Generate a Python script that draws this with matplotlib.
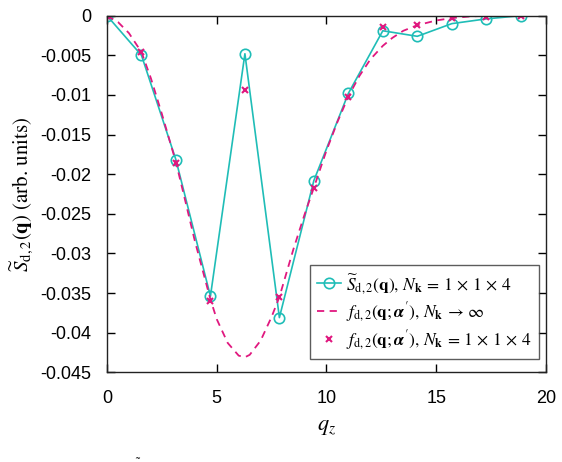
import matplotlib
matplotlib.use("Agg")
import matplotlib.pyplot as plt
from matplotlib import ticker
import numpy as np

# sampled q_z points (n * pi/2)
qz = [0, 1.571, 3.142, 4.712, 6.283, 7.854, 9.425, 10.996, 12.566, 14.137, 15.708, 17.279, 18.850]
S_d2 = [0, -0.0050, -0.0182, -0.0354, -0.0048, -0.0381, -0.0208, -0.0098, -0.0019, -0.0026, -0.0010, -0.0004, 0.0]
f_d2_samp = [0, -0.0046, -0.0186, -0.0360, -0.0094, -0.0355, -0.0217, -0.0103, -0.0014, -0.0012, -0.0003, -0.0001, 0.0]

# continuous curve
q_cont = [0, 0.5, 1.0, 1.571, 2.0, 2.5, 3.142, 3.5, 4.0, 4.712, 5.0, 5.5, 6.0, 6.283, 6.5, 7.0,
          7.5, 7.854, 8.5, 9.0, 9.425, 10.0, 10.5, 10.996, 11.5, 12.0, 12.566, 13.0, 13.5,
          14.137, 15.0, 15.708, 16.5, 17.279, 18.0, 19.0, 20.0]
f_cont = [0, -0.0008, -0.0022, -0.0046, -0.0079, -0.0124, -0.0185, -0.0226, -0.0284, -0.0358,
          -0.0383, -0.0413, -0.0429, -0.0431, -0.0428, -0.0410, -0.0380, -0.0355, -0.0294,
          -0.0251, -0.0217, -0.0170, -0.0134, -0.0102, -0.0076, -0.0055, -0.0038, -0.0028,
          -0.0019, -0.0012, -0.0006, -0.0003, -0.0001, 0.0, 0.0, 0.0, 0.0]

cyan = "#1fbdb7"
mag = "#e0187f"

plt.rcParams['font.family'] = ['Liberation Sans', 'DejaVu Sans']
plt.rcParams['mathtext.fontset'] = 'stix'

fig = plt.figure(figsize=(5.62, 4.62), dpi=100)
ax = fig.add_axes([0.1904, 0.1942, 0.7811, 0.7718])

ax.plot(qz, S_d2, '-o', color=cyan, lw=1.2, ms=7.5, mfc='none', mew=1.2,
        label=r"$\widetilde{S}_{\mathrm{d,2}}(\mathbf{q}),\, N_{\mathbf{k}}\,=\,1\,\times\,1\,\times\,4$")
ax.plot(q_cont, f_cont, color=mag, lw=1.3, dashes=(4, 3),
        label=r"$f_{\mathrm{d,2}}(\mathbf{q};\boldsymbol{\alpha}'),\, N_{\mathbf{k}}\,\rightarrow\,\infty$")
ax.plot(qz, f_d2_samp, 'x', color=mag, ms=4, mew=1.5,
        label=r"$f_{\mathrm{d,2}}(\mathbf{q};\boldsymbol{\alpha}'),\, N_{\mathbf{k}}\,=\,1\,\times\,1\,\times\,4$")

ax.set_xlim(0, 20)
ax.set_ylim(-0.045, 0)
ax.set_xticks([0, 5, 10, 15, 20])
ax.set_yticks(np.arange(-0.045, 0.0001, 0.005))
ax.yaxis.set_major_formatter(ticker.FuncFormatter(lambda v, p: "0" if abs(v) < 1e-9 else ("%g" % round(v, 4))))
ax.tick_params(direction='in', top=True, right=True, length=6, width=1, labelsize=13)
ax.tick_params(axis='y', pad=11)
ax.tick_params(axis='x', pad=13)
for s in ax.spines.values():
    s.set_linewidth(1.0)
    s.set_color("#222222")

ax.set_xlabel(r"$q_z$", fontsize=16, labelpad=6)
ax.set_ylabel(r"$\widetilde{S}_{\mathrm{d,2}}(\mathbf{q})$ (arb. units)", fontsize=15,
              family='STIXGeneral', labelpad=4)

leg = ax.legend(loc='lower right', bbox_to_anchor=(0.984, 0.037), borderaxespad=0,
                fontsize=12.5, frameon=True, fancybox=False,
                edgecolor='#333333', handlelength=1.4,
                handletextpad=0.3, borderpad=0.4, labelspacing=0.25)
leg.get_frame().set_linewidth(1.0)

fig.text(0.24, -0.005, r"$\widetilde{\ }$", fontsize=13, va='bottom')

fig.savefig("out.png", dpi=100)
